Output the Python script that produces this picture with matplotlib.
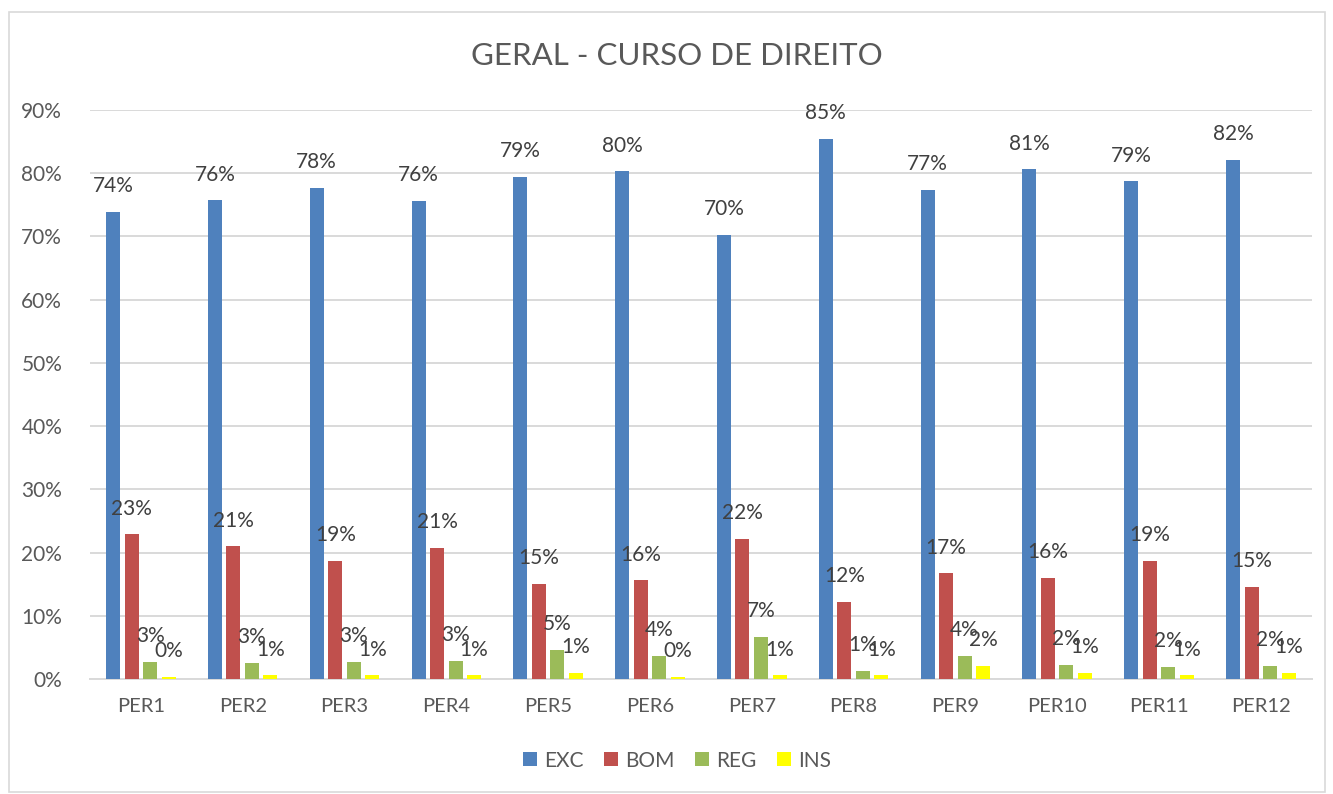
import numpy as np
import matplotlib
matplotlib.use('Agg')
from matplotlib import pyplot as plt
from matplotlib.patches import Rectangle

plt.rcParams['font.family'] = ['Lato', 'DejaVu Sans']

periodos = ['PER1', 'PER2', 'PER3', 'PER4', 'PER5', 'PER6',
            'PER7', 'PER8', 'PER9', 'PER10', 'PER11', 'PER12']
exc = [73.9, 75.7, 77.7, 75.6, 79.4, 80.3, 70.3, 85.4, 77.4, 80.6, 78.7, 82.1]
bom = [22.9, 21.0, 18.7, 20.8, 15.0, 15.6, 22.2, 12.2, 16.7, 16.0, 18.7, 14.6]
reg = [2.7, 2.6, 2.7, 2.9, 4.6, 3.7, 6.7, 1.3, 3.7, 2.2, 1.9, 2.1]
ins = [0.3, 0.6, 0.6, 0.6, 1.0, 0.3, 0.6, 0.6, 2.1, 1.0, 0.6, 1.0]

series = [('EXC', exc, '#4F81BD'), ('BOM', bom, '#C0504D'),
          ('REG', reg, '#9BBB59'), ('INS', ins, '#FFFF00')]

fig = plt.figure(figsize=(13.33, 7.94), dpi=100)
ax = fig.add_axes([0.0675, 0.1448, 0.9165, 0.7167])

x = np.arange(len(periodos))
passo = 0.182
largura = 0.1375
for i, (nome, vals, cor) in enumerate(series):
    pos = x + (i - 1.5) * passo
    ax.bar(pos, vals, width=largura, color=cor, label=nome, zorder=3)
    for px, v in zip(pos, vals):
        ax.annotate('%d%%' % round(v), (px, v), xytext=(0, 18.5),
                    textcoords='offset points', ha='center', va='center',
                    fontsize=15, color='#404040', zorder=5,
                    annotation_clip=False)

ax.set_xlim(-0.5, len(periodos) - 0.5)
ax.set_ylim(0, 90)
ax.set_yticks(np.arange(0, 91, 10))
ax.set_yticklabels(['%d%%' % t for t in range(0, 91, 10)])
ax.set_xticks(x)
ax.set_xticklabels(periodos)
ax.tick_params(axis='y', length=0, pad=20, labelsize=15, labelcolor='#595959')
ax.tick_params(axis='x', length=0, pad=14, labelsize=14.5, labelcolor='#595959')
ax.grid(axis='y', color='#D9D9D9', linewidth=1.4, zorder=0)
for s in ['top', 'right', 'left']:
    ax.spines[s].set_visible(False)
ax.spines['bottom'].set_color('#D9D9D9')
ax.spines['bottom'].set_linewidth(1.4)

fig.text(0.508, 0.930, 'GERAL - CURSO DE DIREITO', ha='center', va='center',
         fontsize=22.5, color='#595959')

fig.legend(loc='center', bbox_to_anchor=(0.508, 0.042), ncol=4, frameon=False,
           fontsize=15, handlelength=0.65, handleheight=0.65, handletextpad=0.35,
           columnspacing=1.0, labelcolor='#595959')

fig.patches.append(Rectangle((9 / 1333, 0.002), 1316 / 1333, 1 - 12 / 794 - 0.002,
                             transform=fig.transFigure, fill=False,
                             edgecolor='#D9D9D9', linewidth=1.2))

fig.savefig('out.png', dpi=100)
